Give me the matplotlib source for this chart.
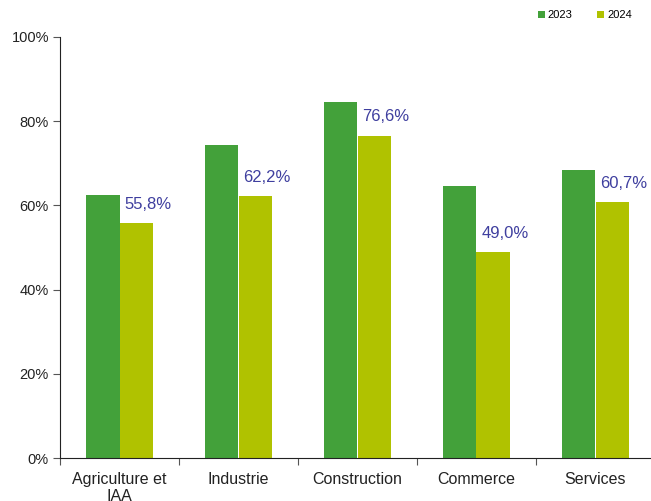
import numpy as np
import matplotlib.pyplot as plt
from matplotlib.patches import Patch

plt.rcParams['font.family'] = ['Liberation Sans', 'DejaVu Sans']

# taux par secteur
secteurs = ['Agriculture et\nIAA', 'Industrie', 'Construction', 'Commerce', 'Services']
taux_2023 = [62.5, 74.4, 84.5, 64.5, 68.5]
taux_2024 = [55.8, 62.2, 76.6, 49.0, 60.7]
annees = ['2023', '2024']

vert = '#43a13a'
anis = '#b0c200'
bleu = '#3f3f9f'

fig = plt.figure(figsize=(6.51, 5.01), dpi=100)
ax = fig.add_axes([60 / 651, 43 / 501, 595 / 651, 421 / 501])

x = np.arange(len(secteurs))
w = 0.285
ax.bar(x - w / 2, taux_2023, w, color=vert, linewidth=0)
ax.bar(x + w / 2, taux_2024, w, color=anis, linewidth=0)

# etiquettes sur les barres 2024
for xi, v in zip(x, taux_2024):
    ax.annotate(f'{v:.1f}%'.replace('.', ','), (xi + 0.04, v), xytext=(0, 8),
                textcoords='offset points', ha='left', va='bottom',
                fontsize=12, color=bleu)

ax.set_xlim(-0.5, len(secteurs) - 0.5)
ax.set_ylim(0, 100)
ax.set_yticks(range(0, 101, 20))
ax.set_yticklabels([f'{t}%' for t in range(0, 101, 20)], fontsize=10.5, color='#222222')

# graduations entre les categories
ax.set_xticks(np.arange(-0.5, len(secteurs), 1))
ax.set_xticklabels([])
ax.set_xticks(x, minor=True)
ax.set_xticklabels(secteurs, minor=True, fontsize=11.5, color='#222222')
ax.tick_params(axis='x', which='minor', length=0, pad=10)
ax.tick_params(axis='x', which='major', length=5, direction='out', color='#555555')
ax.tick_params(axis='y', length=5, direction='out', color='#555555', pad=3)

ax.spines['top'].set_visible(False)
ax.spines['right'].set_visible(False)
ax.spines['left'].set_color('#222222')
ax.spines['bottom'].set_color('#222222')

handles = [Patch(facecolor=vert, label=annees[0]), Patch(facecolor=anis, label=annees[1])]
fig.legend(handles=handles, loc='upper right', bbox_to_anchor=(642 / 651, 1.0),
           ncol=2, frameon=False, fontsize=8, handlelength=0.6, handleheight=0.6,
           handletextpad=0.3, columnspacing=2.2)

fig.savefig('out.png', dpi=100)
